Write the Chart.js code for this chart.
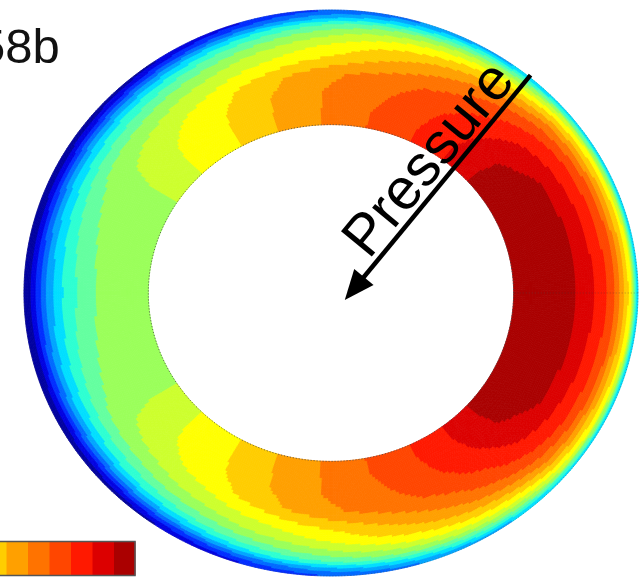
<!doctype html>
<html lang="en">
<head>
    <meta charset="UTF-8">
    <title>Pressure contour - 58b</title>
    <script src="https://cdn.jsdelivr.net/npm/chart.js"></script>
    <style>
        html, body { margin: 0; padding: 0; background: #fff; }
        .chart-container { position: relative; width: 640px; height: 579px; }
    </style>
</head>
<body>
<div class="chart-container">
    <canvas id="pressureChart" width="640" height="579"></canvas>
</div>
<script>
    // angle of each grid column, degrees (0 = right, counter-clockwise)
    const angles = [0, 10, 20, 30, 40, 50, 60, 70, 80, 90, 100, 110, 120, 130, 140, 150, 160, 170,
                    180, 190, 200, 210, 220, 230, 240, 250, 260, 270, 280, 290, 300, 310, 320, 330, 340, 350];
    // radial position of each grid ring, 0 = inner wall, 1 = outer wall
    const radii = [0, 0.15, 0.3, 0.45, 0.6, 0.7, 0.8, 0.88, 0.94, 1];

    // pressure level, one array per ring, one value per angle
    const ring0 = [17.8, 17.8, 17.7, 17.5, 17.2, 16.2, 15.35, 14.6, 13.95, 13.2, 12.5, 11.75, 10.95, 10.35, 9.65, 8.8, 8.6, 8.55,
                   8.5, 8.55, 8.6, 8.8, 9.65, 10.35, 10.95, 11.75, 12.5, 13.2, 13.95, 14.6, 15.35, 16.2, 17.2, 17.5, 17.7, 17.8];
    const ring1 = [17.8, 17.8, 17.7, 17.5, 17.15, 16.2, 15.3, 14.55, 13.9, 13.2, 12.5, 11.75, 10.95, 10.35, 9.65, 8.8, 8.6, 8.55,
                   8.5, 8.55, 8.6, 8.8, 9.65, 10.35, 10.95, 11.75, 12.5, 13.2, 13.9, 14.55, 15.3, 16.2, 17.15, 17.5, 17.7, 17.8];
    const ring2 = [17.7, 17.7, 17.6, 17.4, 17.0, 16.0, 15.1, 14.3, 13.7, 13.15, 12.45, 11.7, 10.9, 10.3, 9.6, 8.75, 8.55, 8.45,
                   8.4, 8.45, 8.55, 8.75, 9.6, 10.3, 10.9, 11.7, 12.45, 13.15, 13.7, 14.3, 15.1, 16.0, 17.0, 17.4, 17.6, 17.7];
    const ring3 = [17.35, 17.3, 17.25, 17.1, 16.5, 15.4, 14.6, 13.9, 13.3, 12.8, 12.1, 11.3, 10.5, 9.9, 9.35, 8.6, 8.3, 8.0,
                   7.9, 8.0, 8.3, 8.6, 9.35, 9.9, 10.5, 11.3, 12.1, 12.8, 13.3, 13.9, 14.6, 15.4, 16.5, 17.1, 17.25, 17.3];
    const ring4 = [16.4, 16.35, 16.25, 16.0, 15.6, 14.6, 13.6, 12.7, 11.8, 11.0, 10.4, 9.9, 9.4, 8.9, 8.5, 8.0, 7.5, 7.1,
                   6.8, 7.1, 7.5, 8.0, 8.5, 8.9, 9.4, 9.9, 10.4, 11.0, 11.8, 12.7, 13.6, 14.6, 15.6, 16.0, 16.25, 16.35];
    const ring5 = [15.55, 15.5, 15.4, 15.2, 14.7, 13.6, 12.6, 11.7, 10.9, 10.1, 9.5, 8.9, 8.3, 7.8, 7.3, 6.9, 6.5, 6.1,
                   5.9, 6.1, 6.5, 6.9, 7.3, 7.8, 8.3, 8.9, 9.5, 10.1, 10.9, 11.7, 12.6, 13.6, 14.7, 15.2, 15.4, 15.5];
    const ring6 = [14.35, 14.3, 14.1, 13.8, 13.2, 11.9, 11.1, 10.2, 9.4, 8.7, 8.0, 7.4, 6.8, 6.3, 5.8, 5.4, 5.0, 4.7,
                   4.5, 4.7, 5.0, 5.4, 5.8, 6.3, 6.8, 7.4, 8.0, 8.7, 9.4, 10.2, 11.1, 11.9, 13.2, 13.8, 14.1, 14.3];
    const ring7 = [12.3, 12.2, 12.0, 11.7, 11.3, 10.1, 9.3, 8.4, 7.7, 7.0, 6.3, 5.6, 4.9, 4.3, 3.8, 3.4, 3.1, 2.8,
                   2.7, 2.8, 3.1, 3.4, 3.8, 4.3, 4.9, 5.6, 6.3, 7.0, 7.7, 8.4, 9.3, 10.1, 11.3, 11.7, 12.0, 12.2];
    const ring8 = [10.6, 10.5, 10.3, 10.0, 9.4, 8.0, 7.2, 6.2, 5.4, 4.7, 4.0, 3.4, 2.8, 2.3, 1.9, 1.5, 1.3, 1.15,
                   1.1, 1.15, 1.3, 1.5, 1.9, 2.3, 2.8, 3.4, 4.0, 4.7, 5.4, 6.2, 7.2, 8.0, 9.4, 10.0, 10.3, 10.5];
    const ring9 = [5.5, 5.5, 5.4, 5.3, 5.2, 4.9, 4.5, 4.0, 3.4, 3.0, 2.4, 1.7, 1.1, 0.6, 0.3, 0.15, 0.1, 0.05,
                   0.05, 0.05, 0.1, 0.15, 0.3, 0.6, 1.1, 1.7, 2.4, 3.0, 3.4, 4.0, 4.5, 4.9, 5.2, 5.3, 5.4, 5.5];
    const rings = [ring0, ring1, ring2, ring3, ring4, ring5, ring6, ring7, ring8, ring9];

    // one colour per pressure band, low to high
    const bandColors = ['#0000a0', '#0000e1', '#002dff', '#0069ff', '#00a5ff', '#00deff', '#2dffd2', '#64ffa0', '#9bff5a',
                        '#cdff2d', '#ffff00', '#ffcd00', '#ffa000', '#ff7300', '#ff4600', '#ff1900', '#dc0000', '#aa0000'];

    const innerRadius = 0.595;

    function bandColor(v) {
        const k = Math.max(0, Math.min(bandColors.length - 1, Math.floor(v)));
        return bandColors[k];
    }

    // filled contour bands on the annulus, drawn through the x/y scales
    const contourBands = {
        id: 'contourBands',
        beforeDatasetsDraw(chart) {
            const { ctx, scales: { x, y } } = chart;
            const toPx = (deg, s) => {
                const r = innerRadius + s * (1 - innerRadius);
                const t = deg * Math.PI / 180;
                return [x.getPixelForValue(r * Math.cos(t)), y.getPixelForValue(r * Math.sin(t))];
            };
            const subA = 16, subR = 6;
            ctx.save();
            ctx.lineWidth = 0.8;
            ctx.lineJoin = 'round';
            for (let i = 0; i < angles.length; i++) {
                const i2 = (i + 1) % angles.length;
                const a0 = angles[i];
                const a1 = i2 === 0 ? 360 : angles[i2];
                for (let j = 0; j < radii.length - 1; j++) {
                    const s0 = radii[j], s1 = radii[j + 1];
                    const v00 = rings[j][i], v10 = rings[j][i2];
                    const v01 = rings[j + 1][i], v11 = rings[j + 1][i2];
                    for (let u = 0; u < subA; u++) {
                        for (let w = 0; w < subR; w++) {
                            const fu = (u + 0.5) / subA, fw = (w + 0.5) / subR;
                            const v = v00 * (1 - fu) * (1 - fw) + v10 * fu * (1 - fw) + v01 * (1 - fu) * fw + v11 * fu * fw;
                            const col = bandColor(v);
                            const aa = a0 + (a1 - a0) * u / subA, ab = a0 + (a1 - a0) * (u + 1) / subA;
                            const sa = s0 + (s1 - s0) * w / subR, sb = s0 + (s1 - s0) * (w + 1) / subR;
                            const p = [toPx(aa, sa), toPx(ab, sa), toPx(ab, sb), toPx(aa, sb)];
                            ctx.beginPath();
                            ctx.moveTo(p[0][0], p[0][1]);
                            for (let k = 1; k < 4; k++) ctx.lineTo(p[k][0], p[k][1]);
                            ctx.closePath();
                            ctx.fillStyle = col;
                            ctx.strokeStyle = col;
                            ctx.fill();
                            ctx.stroke();
                        }
                    }
                }
            }
            // dotted mesh edges
            ctx.setLineDash([1.2, 1.8]);
            ctx.lineWidth = 1;
            ctx.strokeStyle = 'rgba(70,70,70,0.75)';
            ctx.beginPath();
            for (let d = 0; d <= 360; d += 2) {
                const p = toPx(d, 0);
                if (d === 0) ctx.moveTo(p[0], p[1]); else ctx.lineTo(p[0], p[1]);
            }
            ctx.stroke();
            ctx.strokeStyle = 'rgba(70,70,70,0.35)';
            ctx.beginPath();
            for (let d = 0; d <= 360; d += 2) {
                const p = toPx(d, 1);
                if (d === 0) ctx.moveTo(p[0], p[1]); else ctx.lineTo(p[0], p[1]);
            }
            ctx.stroke();
            ctx.beginPath();
            const q0 = toPx(0, 0), q1 = toPx(0, 1);
            ctx.moveTo(q0[0], q0[1]);
            ctx.lineTo(q1[0], q1[1]);
            ctx.stroke();
            ctx.restore();
        },
        afterDatasetsDraw(chart, args, opts) {
            const { ctx, scales: { x, y } } = chart;
            // arrow + label
            const tx = x.getPixelForValue(opts.arrowTail[0]), ty = y.getPixelForValue(opts.arrowTail[1]);
            const hx = x.getPixelForValue(opts.arrowHead[0]), hy = y.getPixelForValue(opts.arrowHead[1]);
            const ang = Math.atan2(ty - hy, tx - hx);
            const ux = Math.cos(ang), uy = Math.sin(ang);
            const headLen = 30, headHalf = 12.5;
            ctx.save();
            ctx.strokeStyle = '#000';
            ctx.fillStyle = '#000';
            ctx.lineWidth = 4.5;
            ctx.beginPath();
            ctx.moveTo(tx, ty);
            ctx.lineTo(hx + ux * (headLen - 2), hy + uy * (headLen - 2));
            ctx.stroke();
            ctx.beginPath();
            ctx.moveTo(hx, hy);
            ctx.lineTo(hx + ux * headLen - uy * headHalf, hy + uy * headLen + ux * headHalf);
            ctx.lineTo(hx + ux * headLen + uy * headHalf, hy + uy * headLen - ux * headHalf);
            ctx.closePath();
            ctx.fill();

            const along = 162;
            ctx.translate(hx + ux * along, hy + uy * along);
            ctx.rotate(ang);
            ctx.font = '58px "Liberation Sans", Arial, sans-serif';
            ctx.textAlign = 'center';
            ctx.textBaseline = 'alphabetic';
            ctx.fillText(opts.label, 0, -7);
            ctx.restore();

            // panel tag
            ctx.save();
            ctx.fillStyle = '#111';
            ctx.font = '49px "Liberation Sans", Arial, sans-serif';
            ctx.textAlign = 'left';
            ctx.textBaseline = 'alphabetic';
            ctx.fillText(opts.tag, -22, 63);
            ctx.restore();

            // colour bar, cut by the left edge
            ctx.save();
            const segW = 21.5, right = 135, top = 541.5, h = 34;
            for (let k = bandColors.length - 1; k >= 0; k--) {
                const x0 = right - (bandColors.length - k) * segW;
                if (x0 + segW < 0) break;
                ctx.fillStyle = bandColors[k];
                ctx.fillRect(x0, top, segW + 0.5, h);
            }
            ctx.strokeStyle = '#555';
            ctx.lineWidth = 1.5;
            ctx.strokeRect(right - bandColors.length * segW, top, bandColors.length * segW, h);
            ctx.restore();
        }
    };

    const ctxPressure = document.getElementById('pressureChart').getContext('2d');
    const pressureChart = new Chart(ctxPressure, {
        type: 'scatter',
        data: { datasets: [{ data: [], pointRadius: 0 }] },
        options: {
            responsive: false,
            animation: false,
            devicePixelRatio: 1,
            layout: { padding: 0 },
            scales: {
                x: { type: 'linear', min: -1.078, max: 1.0065, display: false },
                y: { type: 'linear', min: -1.0106, max: 1.0353, display: false }
            },
            plugins: {
                legend: { display: false },
                tooltip: { enabled: false },
                contourBands: {
                    arrowTail: [0.65, 0.77],
                    arrowHead: [0.045, -0.025],
                    label: 'Pressure',
                    tag: '58b'
                }
            }
        },
        plugins: [contourBands]
    });
</script>
</body>
</html>
